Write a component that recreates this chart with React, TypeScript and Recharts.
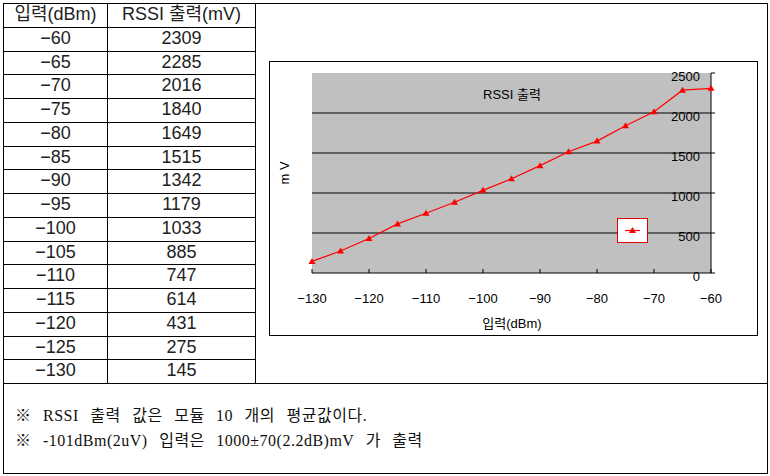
import React from 'react';
import { LineChart, Line, XAxis, YAxis, CartesianGrid, Legend } from 'recharts';

const inputs = [-60, -65, -70, -75, -80, -85, -90, -95, -100, -105, -110, -115, -120, -125, -130];
const outputs = [2309, 2285, 2016, 1840, 1649, 1515, 1342, 1179, 1033, 885, 747, 614, 431, 275, 145];
const xTicks = [-130, -120, -110, -100, -90, -80, -70, -60];
const yTicks = [0, 500, 1000, 1500, 2000, 2500];
const gridValues = [500, 1000, 1500, 2000];
const headers = ['입력(dBm)', 'RSSI 출력(mV)'];
const notes = [
  '※ RSSI 출력 값은 모듈 10 개의 평균값이다.',
  '※ -101dBm(2uV) 입력은 1000±70(2.2dB)mV 가 출력',
];
const chartTitle = 'RSSI 출력';
const yLabel = 'm V';
const xLabel = '입력(dBm)';

const data = inputs
  .map((x, i) => ({ x, y: outputs[i] }))
  .sort((a, b) => a.x - b.x);

const fmt = (v: number) => (v < 0 ? '\u2212' + Math.abs(v) : String(v));

const SANS = '"Liberation Sans", "Noto Sans CJK KR", sans-serif';
const SERIF = '"Liberation Serif", "Noto Sans CJK KR", serif';
const RED = '#ff0000';

const XTick = (props: any) => {
  const { x, y, payload } = props;
  return (
    <g>
      <line x1={x} y1={y} x2={x} y2={y - 4} stroke="#000" strokeWidth={1} />
      <text x={x} y={y + 25} dy="0.35em" textAnchor="middle" fontSize={13} fontFamily={SANS} fill="#000">
        {fmt(payload.value)}
      </text>
    </g>
  );
};

const YTick = (props: any) => {
  const { x, y, payload } = props;
  return (
    <g>
      <line x1={x} y1={y} x2={x + 4} y2={y} stroke="#000" strokeWidth={1} />
      <text x={x - 11} y={y + 3} dy="0.35em" textAnchor="end" fontSize={13} fontFamily={SANS} fill="#000">
        {fmt(payload.value)}
      </text>
    </g>
  );
};

const TriDot = (props: any) => {
  const { cx, cy } = props;
  if (cx == null || cy == null) return null;
  return <path d={`M${cx},${cy - 3.5}L${cx + 3.5},${cy + 2.5}L${cx - 3.5},${cy + 2.5}Z`} fill={RED} />;
};

const LegendBox = () => (
  <svg width={31} height={25} style={{ display: 'block' }}>
    <rect x={0.5} y={0.5} width={30} height={24} fill="#fff" stroke="#e00000" strokeWidth={1} />
    <line x1={8} y1={12.5} x2={23} y2={12.5} stroke={RED} strokeWidth={1.2} />
    <path d="M15.5,9L19,15L12,15Z" fill={RED} />
  </svg>
);

const ROW_H = 23.75;
const TOP = 3;

export default function App() {
  const rows = inputs.map((v, i) => [fmt(v), String(outputs[i])]);
  const lines: React.ReactNode[] = [];
  for (let i = 1; i <= 15; i++) {
    lines.push(
      <div key={'h' + i} style={{ position: 'absolute', left: 3, top: Math.round(TOP + i * ROW_H), width: 252, height: 1, background: '#000' }} />
    );
  }
  return (
    <div style={{ position: 'absolute', left: 0, top: 0, width: 770, height: 476, background: '#fff', overflow: 'hidden' }}>
      {/* outer border */}
      <div style={{ position: 'absolute', left: 3, top: 3, width: 765, height: 471, border: '1px solid #000', boxSizing: 'border-box' }} />
      {/* column dividers */}
      <div style={{ position: 'absolute', left: 107, top: 3, width: 1, height: 380, background: '#000' }} />
      <div style={{ position: 'absolute', left: 255, top: 3, width: 1, height: 380, background: '#000' }} />
      {lines}
      <div style={{ position: 'absolute', left: 3, top: 383, width: 765, height: 1, background: '#000' }} />
      {/* table text */}
      {[headers, ...rows].map((r, i) => (
        <React.Fragment key={'r' + i}>
          <div style={{ position: 'absolute', left: 4, width: 103, top: TOP + i * ROW_H, height: ROW_H, lineHeight: ROW_H + 'px', textAlign: 'center', fontFamily: SANS, fontSize: 18, color: '#222' }}>{r[0]}</div>
          <div style={{ position: 'absolute', left: 108, width: 147, top: TOP + i * ROW_H, height: ROW_H, lineHeight: ROW_H + 'px', textAlign: 'center', fontFamily: SANS, fontSize: 18, color: '#222' }}>{r[1]}</div>
        </React.Fragment>
      ))}
      {/* notes */}
      {notes.map((n, i) => (
        <div key={'n' + i} style={{ position: 'absolute', left: 15, top: 405 + i * 25, height: 22, lineHeight: '22px', fontFamily: SERIF, fontSize: 16, letterSpacing: 0.5, wordSpacing: 7, whiteSpace: 'pre', color: '#111' }}>{n}</div>
      ))}
      {/* chart box */}
      <div style={{ position: 'absolute', left: 269, top: 61, width: 489, height: 275, border: '1px solid #000', boxSizing: 'border-box' }} />
      <div style={{ position: 'absolute', left: 269, top: 61 }}>
        <LineChart width={488} height={274} data={data} margin={{ top: 12, left: 43, right: 6, bottom: 12 }}>
          <CartesianGrid fill="#c0c0c0" fillOpacity={1} stroke="#000" strokeWidth={1.2} vertical={false} horizontalValues={gridValues} />
          <XAxis
            dataKey="x"
            type="number"
            domain={[-130, -60]}
            ticks={xTicks}
            height={50}
            tickSize={0}
            tickMargin={0}
            tickLine={false}
            axisLine={{ stroke: '#000' }}
            tick={<XTick />}
            interval={0}
          />
          <YAxis
            orientation="right"
            type="number"
            domain={[0, 2500]}
            ticks={yTicks}
            width={40}
            tickSize={0}
            tickMargin={0}
            tickLine={false}
            axisLine={{ stroke: '#000' }}
            tick={<YTick />}
            interval={0}
          />
          <Legend
            layout="horizontal"
            verticalAlign="middle"
            align="center"
            content={<LegendBox />}
            wrapperStyle={{ position: 'absolute', left: 348, top: 157, width: 31, height: 25 }}
          />
          <Line type="linear" dataKey="y" stroke={RED} strokeWidth={1.2} dot={<TriDot />} isAnimationActive={false} />
        </LineChart>
      </div>
      {/* chart labels */}
      <div style={{ position: 'absolute', left: 412, width: 200, top: 86, textAlign: 'center', fontFamily: SANS, fontSize: 13, lineHeight: '18px', color: '#000' }}>{chartTitle}</div>
      <div style={{ position: 'absolute', left: 412, width: 200, top: 315, textAlign: 'center', fontFamily: SANS, fontSize: 13, lineHeight: '18px', color: '#000' }}>{xLabel}</div>
      <div style={{ position: 'absolute', left: 285, top: 173, width: 0, height: 0 }}>
        <div style={{ position: 'absolute', left: -30, top: -9, width: 60, textAlign: 'center', transform: 'rotate(-90deg)', fontFamily: SANS, fontSize: 13, lineHeight: '18px', color: '#000' }}>{yLabel}</div>
      </div>
    </div>
  );
}
